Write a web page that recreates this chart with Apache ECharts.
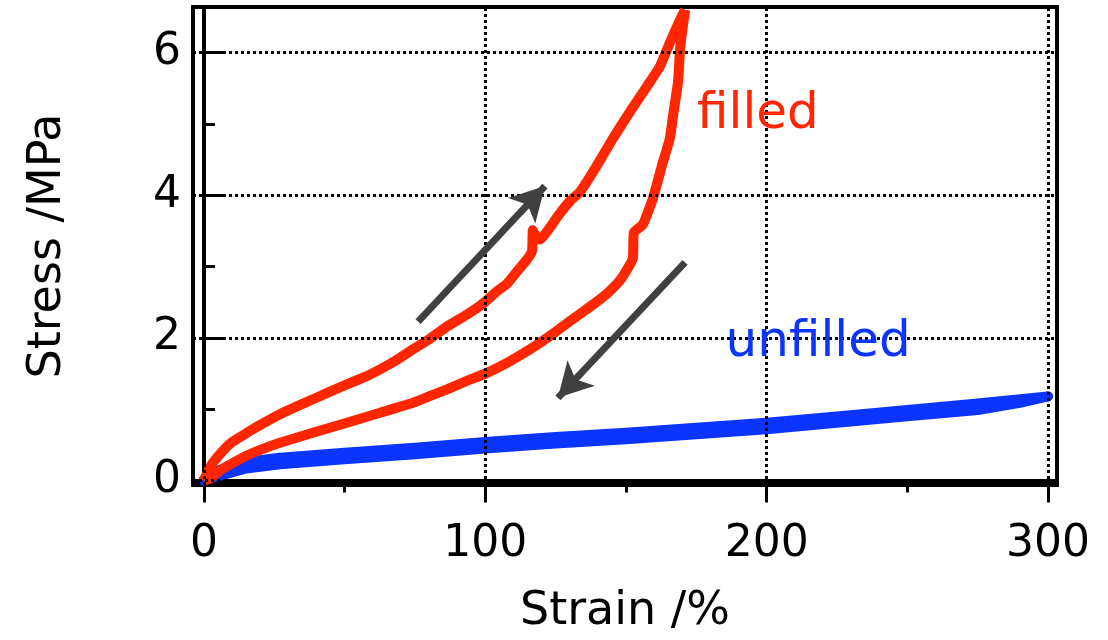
<!DOCTYPE html>
<html>
<head>
<meta charset="utf-8">
<script src="https://cdn.jsdelivr.net/npm/echarts@6/dist/echarts.min.js"></script>
<style>html,body{margin:0;padding:0;background:#fff;}#c{width:1108px;height:640px;}</style>
</head>
<body>
<div id="c"></div>
<script>
// ---- data ----
const xTickLabels = [0, 100, 200, 300];
const xMinorTicks = [50, 150, 250];
const yTickLabels = [0, 2, 4, 6];
const yMinorTicks = [1, 3, 5];

const filledLoadStrain = [0, 1.1, 3, 6.8, 10, 15.3, 20, 27, 33, 38.7, 45, 50.8, 57, 62.6, 68, 74.3, 80, 86.4, 93.5, 98.1, 100.6, 104, 107.7, 111, 114.8, 116.6, 116.9, 118, 119.4, 123, 126, 130.1, 133.7, 139.7, 145.4, 151.4, 157.5, 162.1, 165.6, 169.2, 171];
const filledLoadStress = [0, 0.1, 0.24, 0.42, 0.54, 0.67, 0.78, 0.93, 1.04, 1.14, 1.25, 1.35, 1.45, 1.56, 1.68, 1.84, 1.98, 2.16, 2.33, 2.45, 2.53, 2.65, 2.76, 2.92, 3.1, 3.22, 3.51, 3.42, 3.38, 3.55, 3.72, 3.92, 4.05, 4.42, 4.8, 5.17, 5.53, 5.81, 6.14, 6.46, 6.6];
const filledUnloadStrain = [171, 169.9, 169.2, 168.5, 166.7, 165.6, 162.8, 159.6, 156, 152.8, 152.5, 151.4, 147.9, 143.2, 138, 133.7, 124.1, 115.9, 107.7, 100.6, 93, 86.4, 80, 74.3, 62.6, 50.8, 38.7, 27, 20, 15.3, 10, 6.8, 2.1, 0];
const filledUnloadStress = [6.6, 6.28, 6.04, 5.59, 5.11, 4.8, 4.42, 3.96, 3.59, 3.48, 3.13, 3.03, 2.81, 2.62, 2.46, 2.34, 2.06, 1.84, 1.65, 1.51, 1.39, 1.28, 1.18, 1.09, 0.95, 0.81, 0.67, 0.53, 0.43, 0.35, 0.24, 0.17, 0.03, 0];

const unfilledLoadStrain = [0, 5, 15, 27, 50, 75, 100, 125, 150, 175, 200, 225, 250, 275, 300];
const unfilledLoadStress = [0.02, 0.14, 0.26, 0.32, 0.39, 0.46, 0.54, 0.61, 0.67, 0.74, 0.81, 0.9, 0.99, 1.08, 1.18];
const unfilledUnloadStrain = [300, 290, 275, 250, 225, 200, 175, 150, 125, 100, 75, 50, 27, 15, 5, 0];
const unfilledUnloadStress = [1.18, 1.09, 0.99, 0.9, 0.81, 0.72, 0.65, 0.58, 0.52, 0.45, 0.37, 0.3, 0.23, 0.17, 0.06, 0];

const labels = {filled: 'filled', unfilled: 'unfilled', xName: 'Strain /%', yName: 'Stress /MPa'};
// annotation anchors (data coords)
const filledLabelPos = [196.9, 5.12];
const unfilledLabelPos = [218.3, 1.93];
const arrowUp = [[76.1, 2.23], [121.2, 4.13]];
const arrowDown = [[171.0, 3.06], [125.8, 1.16]];

// ---- build ----
const zip = (a, b) => a.map((v, i) => [v, b[i]]);
const RED = '#ff2600';
const BLUE = '#0b34ff';
const FONT = 'DejaVu Sans';
const X_MIN = -3.9, X_MAX = 303.2, Y_MIN = -0.062, Y_MAX = 6.64;

const gridLines = [];
xTickLabels.forEach(v => gridLines.push({xAxis: v}));
yTickLabels.forEach(v => gridLines.push({yAxis: v}));

const chart = echarts.init(document.getElementById('c'), null, {renderer: 'canvas'});
chart.setOption({
  animation: false,
  backgroundColor: '#fff',
  grid: {left: 193, right: 51, top: 7, bottom: 150, show: true, borderColor: '#000', borderWidth: 4, backgroundColor: 'transparent'},
  xAxis: [{
    type: 'value', min: X_MIN, max: X_MAX, position: 'bottom',
    name: labels.xName, nameLocation: 'middle', nameGap: 104,
    nameTextStyle: {fontFamily: FONT, fontSize: 46, color: '#000'},
    axisLine: {show: true, lineStyle: {color: '#000', width: 4}},
    axisTick: {show: true, inside: false, length: 22, lineStyle: {color: '#000', width: 3}, customValues: xTickLabels},
    axisLabel: {show: true, customValues: xTickLabels, margin: 38, fontFamily: FONT, fontSize: 44, color: '#000'},
    splitLine: {show: false}
  }, {
    type: 'value', min: X_MIN, max: X_MAX, position: 'bottom',
    axisLine: {show: false},
    axisTick: {show: true, inside: false, length: 12, lineStyle: {color: '#000', width: 3}, customValues: xMinorTicks},
    axisLabel: {show: false},
    splitLine: {show: false}
  }],
  yAxis: [{
    type: 'value', min: Y_MIN, max: Y_MAX, position: 'left',
    name: labels.yName, nameLocation: 'middle', nameGap: 122, nameRotate: 90,
    nameTextStyle: {fontFamily: FONT, fontSize: 46, color: '#000'},
    axisLine: {show: true, lineStyle: {color: '#000', width: 4}},
    axisTick: {show: true, inside: true, length: 20, lineStyle: {color: '#000', width: 3}, customValues: yTickLabels},
    axisLabel: {show: true, customValues: yTickLabels, margin: 12, fontFamily: FONT, fontSize: 44, color: '#000'},
    splitLine: {show: false}
  }, {
    type: 'value', min: Y_MIN, max: Y_MAX, position: 'left',
    axisLine: {show: false},
    axisTick: {show: true, inside: true, length: 11, lineStyle: {color: '#000', width: 3}, customValues: yMinorTicks},
    axisLabel: {show: false},
    splitLine: {show: false}
  }],
  series: [
    {
      type: 'line', data: [], z: 1, silent: true,
      markLine: {
        silent: true, symbol: ['none', 'none'], animation: false,
        label: {show: false},
        lineStyle: {color: '#000', width: 3, type: [3, 3]},
        emphasis: {disabled: true},
        data: gridLines
      }
    },
    {
      name: 'unfilled-load', type: 'line', data: zip(unfilledLoadStrain, unfilledLoadStress),
      showSymbol: false, symbol: 'none', z: 3,
      lineStyle: {color: BLUE, width: 10, cap: 'round', join: 'round'}
    },
    {
      name: 'unfilled-unload', type: 'line', data: zip(unfilledUnloadStrain, unfilledUnloadStress),
      showSymbol: false, symbol: 'none', z: 3,
      lineStyle: {color: BLUE, width: 10, cap: 'round', join: 'round'},
      markPoint: {
        silent: true, symbol: 'circle', symbolSize: 1, itemStyle: {color: 'rgba(0,0,0,0)'},
        label: {show: true, position: 'inside', formatter: labels.unfilled, fontFamily: FONT, fontSize: 50, color: BLUE},
        data: [{coord: unfilledLabelPos}]
      }
    },
    {
      name: 'filled-load', type: 'line', data: zip(filledLoadStrain, filledLoadStress),
      showSymbol: false, symbol: 'none', z: 4, smooth: 0.15,
      lineStyle: {color: RED, width: 10}
    },
    {
      name: 'filled-unload', type: 'line', data: zip(filledUnloadStrain, filledUnloadStress),
      showSymbol: false, symbol: 'none', z: 4, smooth: 0.15,
      lineStyle: {color: RED, width: 10},
      markPoint: {
        silent: true, symbol: 'circle', symbolSize: 1, itemStyle: {color: 'rgba(0,0,0,0)'},
        label: {show: true, position: 'inside', formatter: labels.filled, fontFamily: FONT, fontSize: 50, color: RED},
        data: [{coord: filledLabelPos}]
      }
    },
    {
      type: 'line', data: [], z: 5, silent: true,
      markLine: {
        silent: true, symbol: ['none', 'arrow'], symbolSize: [28, 34], animation: false,
        label: {show: false},
        lineStyle: {color: '#404040', width: 7, type: 'solid'},
        itemStyle: {color: '#404040'},
        emphasis: {disabled: true},
        data: [
          [{coord: arrowUp[0]}, {coord: arrowUp[1]}],
          [{coord: arrowDown[0]}, {coord: arrowDown[1]}]
        ]
      }
    }
  ]
});
</script>
</body>
</html>
